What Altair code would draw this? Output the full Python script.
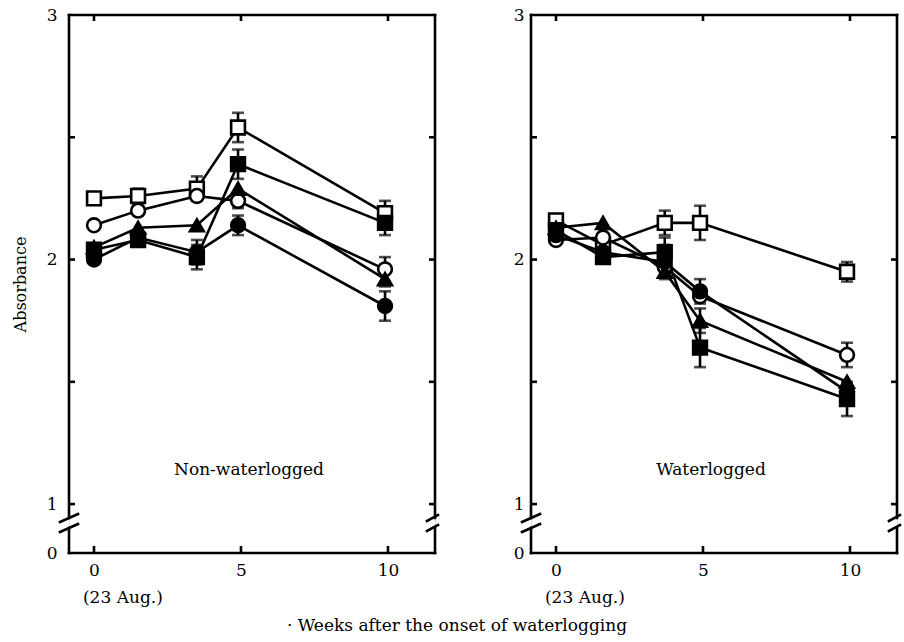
import altair as alt
import pandas as pd

FONT = "DejaVu Serif"

# ---------------- data ----------------
series_names = ["open square", "open circle", "filled triangle", "filled square", "filled circle"]
series_shapes = ["square", "circle", "triangle-up", "square", "circle"]
series_fills = ["white", "white", "black", "black", "black"]

weeks_nonwl = [0, 1.5, 3.5, 4.9, 9.9]
weeks_wl = [0, 1.6, 3.7, 4.9, 9.9]

# Non-waterlogged
nw_open_square = [2.25, 2.26, 2.29, 2.54, 2.19]
nw_open_square_err = [0, 0.03, 0.05, 0.06, 0.05]
nw_open_circle = [2.14, 2.20, 2.26, 2.24, 1.96]
nw_open_circle_err = [0, 0, 0, 0.03, 0.05]
nw_filled_triangle = [2.05, 2.13, 2.14, 2.29, 1.92]
nw_filled_triangle_err = [0, 0, 0, 0, 0.03]
nw_filled_square = [2.04, 2.08, 2.01, 2.39, 2.15]
nw_filled_square_err = [0, 0.02, 0.05, 0.06, 0.05]
nw_filled_circle = [2.00, 2.09, 2.03, 2.14, 1.81]
nw_filled_circle_err = [0, 0, 0.05, 0.04, 0.06]

# Waterlogged
wl_open_square = [2.16, 2.06, 2.15, 2.15, 1.95]
wl_open_square_err = [0, 0, 0.05, 0.07, 0.04]
wl_open_circle = [2.08, 2.09, 1.97, 1.85, 1.61]
wl_open_circle_err = [0, 0, 0, 0, 0.05]
wl_filled_triangle = [2.13, 2.15, 1.95, 1.75, 1.50]
wl_filled_triangle_err = [0, 0, 0, 0.05, 0]
wl_filled_square = [2.12, 2.01, 2.03, 1.64, 1.43]
wl_filled_square_err = [0, 0.02, 0.06, 0.08, 0.07]
wl_filled_circle = [2.10, 2.03, 1.99, 1.87, 1.46]
wl_filled_circle_err = [0, 0, 0.07, 0.05, 0]

x_tick_values = [0, 5, 10]
y_label_values = [0.8, 1, 2, 3]      # 0.8 is the position of the broken-axis "0"
y_tick_values = [1, 1.5, 2, 2.5]
date_note = "(23 Aug.)"
panel_titles = ["Non-waterlogged", "Waterlogged"]
x_title = "\u00b7 Weeks after the onset of waterlogging"
y_title = "Absorbance"

# ---------------- layout ----------------
W, H = 366, 538
G0, G1 = 503, 513   # break gap on vertical frame lines
X_DOMAIN = [-0.85, 11.6]
Y_DOMAIN = [0.8, 3]
SW = 2.6


def build_df(weeks, vals, errs):
    rows = []
    for name, fill, v, e in zip(series_names, series_fills, vals, errs):
        for i, (w, y, er) in enumerate(zip(weeks, v, e)):
            rows.append({"series": name, "fill": fill, "week": w, "value": y,
                         "err": er, "lo": y - er, "hi": y + er, "order": i})
    return pd.DataFrame(rows)


df_nw = build_df(weeks_nonwl,
                 [nw_open_square, nw_open_circle, nw_filled_triangle, nw_filled_square, nw_filled_circle],
                 [nw_open_square_err, nw_open_circle_err, nw_filled_triangle_err, nw_filled_square_err, nw_filled_circle_err])
df_wl = build_df(weeks_wl,
                 [wl_open_square, wl_open_circle, wl_filled_triangle, wl_filled_square, wl_filled_circle],
                 [wl_open_square_err, wl_open_circle_err, wl_filled_triangle_err, wl_filled_square_err, wl_filled_circle_err])

xscale = alt.Scale(domain=X_DOMAIN, nice=False, zero=False)
yscale = alt.Scale(domain=Y_DOMAIN, nice=False, zero=False)
one = alt.Data(values=[{"k": 0}])


def seg(x, x2, y, y2):
    return alt.Chart(one).mark_rule(color="black", strokeWidth=SW, strokeCap="square").encode(
        x=alt.value(x), x2=alt.value(x2), y=alt.value(y), y2=alt.value(y2))


def make_panel(df, title, show_ytitle, label_pad):
    xaxis = alt.Axis(values=x_tick_values, ticks=False, domain=False, grid=False,
                     labelFont=FONT, labelFontSize=17, labelPadding=9, labelColor="black",
                     title=None)
    yaxis = alt.Axis(values=y_label_values, ticks=False, domain=False, grid=False,
                     labelExpr="datum.value < 0.9 ? '0' : '' + datum.value",
                     labelFont=FONT, labelFontSize=17, labelPadding=label_pad, labelColor="black",
                     title=y_title if show_ytitle else None,
                     titleFont=FONT, titleFontSize=16, titleFontWeight="normal",
                     titleColor="black", titlePadding=18)
    X = lambda f: alt.X(f, type="quantitative", scale=xscale, axis=xaxis)
    Y = lambda f: alt.Y(f, type="quantitative", scale=yscale, axis=yaxis)

    base = alt.Chart(df)
    lines = base.mark_line(color="black", strokeWidth=SW).encode(
        x=X("week"), y=Y("value"), detail="series:N", order="order:Q")
    errdf = base.transform_filter("datum.err > 0")
    errs = errdf.mark_rule(color="black", strokeWidth=SW).encode(
        x=X("week"), y=Y("lo"), y2="hi:Q")
    cap_lo = errdf.mark_tick(orient="horizontal", color="black", size=12, thickness=SW).encode(
        x=X("week"), y=Y("lo"))
    cap_hi = errdf.mark_tick(orient="horizontal", color="black", size=12, thickness=SW).encode(
        x=X("week"), y=Y("hi"))
    points = base.mark_point(filled=True, opacity=1, stroke="black", strokeWidth=SW, size=190).encode(
        x=X("week"), y=Y("value"),
        shape=alt.Shape("series:N", scale=alt.Scale(domain=series_names, range=series_shapes), legend=None),
        fill=alt.Fill("fill:N", scale=None, legend=None))

    ytick_df = pd.DataFrame({"value": y_tick_values})
    xtick_df = pd.DataFrame({"week": x_tick_values})
    yt_left = alt.Chart(ytick_df).mark_rule(color="black", strokeWidth=SW).encode(
        y=Y("value"), x=alt.value(0), x2=alt.value(6))
    yt_right = alt.Chart(ytick_df).mark_rule(color="black", strokeWidth=SW).encode(
        y=Y("value"), x=alt.value(W - 6), x2=alt.value(W))
    xt_bottom = alt.Chart(xtick_df).mark_rule(color="black", strokeWidth=SW).encode(
        x=X("week"), y=alt.value(H - 7), y2=alt.value(H))
    xt_top = alt.Chart(xtick_df).mark_rule(color="black", strokeWidth=SW).encode(
        x=X("week"), y=alt.value(0), y2=alt.value(6))

    frame = [
        seg(0, W, 0, 0), seg(0, W, H, H),
        seg(0, 0, 0, G0), seg(0, 0, G1, H),
        seg(W, W, 0, G0), seg(W, W, G1, H),
        seg(-9, 9, G0 + 4, G0 - 4), seg(-9, 9, G1 + 4, G1 - 4),
        seg(W - 8, W + 3, G0 + 3, G0 - 3), seg(W - 8, W + 3, G1 + 3, G1 - 3),
    ]

    note = alt.Chart(pd.DataFrame({"week": [0], "text": [date_note]})).mark_text(
        font=FONT, fontSize=17, align="left", baseline="middle", dx=-11, color="black").encode(
        x=X("week"), y=alt.value(H + 45), text="text:N")
    ptitle = alt.Chart(one).mark_text(font=FONT, fontSize=17, align="center", baseline="middle",
                                      color="black").encode(
        x=alt.value(180), y=alt.value(455), text=alt.value(title))

    return alt.layer(lines, errs, cap_lo, cap_hi, points, yt_left, yt_right, xt_bottom, xt_top,
                     *frame, note, ptitle).properties(width=W, height=H)


left = make_panel(df_nw, panel_titles[0], True, 12)
right = make_panel(df_wl, panel_titles[1], False, 7)

chart = alt.hconcat(left, right, spacing=96, bounds="flush").properties(
    title=alt.TitleParams(x_title, orient="bottom", anchor="middle", font=FONT, fontSize=17,
                          fontWeight="normal", color="black", offset=11),
    padding={"left": 11, "top": 5, "right": 0, "bottom": 3},
).configure_view(strokeWidth=0).configure(background="white")

chart.save("out.html", embed_options={"renderer": "svg", "actions": False})
